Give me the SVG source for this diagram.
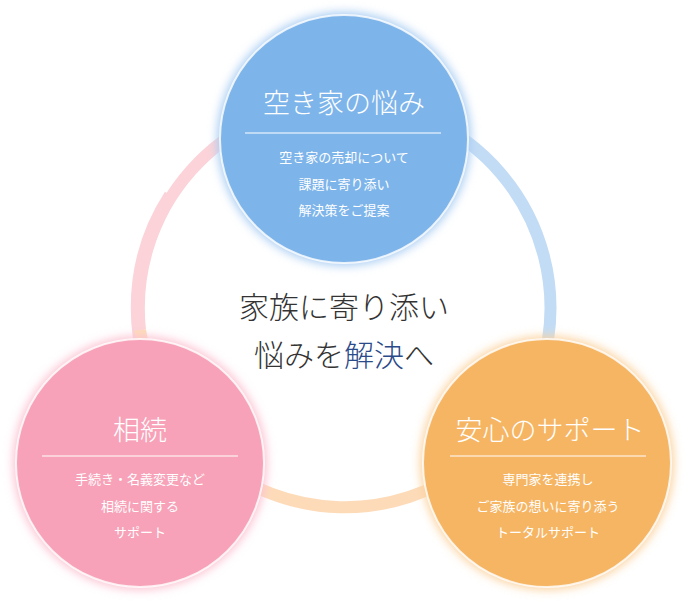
<svg xmlns="http://www.w3.org/2000/svg" width="688" height="604" viewBox="0 0 688 604">
<defs>
<filter id="glow" x="-20%" y="-20%" width="140%" height="140%"><feGaussianBlur stdDeviation="5"/></filter>
<style>
text{font-family:"Noto Sans CJK JP",sans-serif;text-anchor:middle}
.t{fill:#fff;font-size:27px;font-weight:300}
.s{fill:#fff;font-size:13px}
.c{fill:#333;font-size:30px;font-weight:300}
.ln{stroke:#fff;stroke-width:1.2}
.bd{stroke:#fff;stroke-width:2;stroke-opacity:0.8}
</style>
</defs>
<rect width="688" height="604" fill="#fff"/>
<g id="connectors" fill="none" stroke-width="12">
<path d="M 170 195 A 207 207 0 0 0 170 420" stroke="#fbd3d8" transform="rotate(0)"/>
<path d="M 140 330 A 207 207 0 0 1 344 101" stroke="#fbd3d8"/>
<path d="M 344 101 A 207 207 0 0 1 548 340" stroke="#c3dcf5"/>
<path d="M 548 340 A 207 207 0 0 1 140 330" stroke="#fddbb9"/>
</g>
<g id="center-text">
<text class="c" x="344" y="318">家族に寄り添い</text>
<text class="c" x="344" y="366">悩みを<tspan fill="#2b4a8a">解決</tspan>へ</text>
</g>
<g id="node-blue">
<circle cx="344" cy="139" r="127" fill="#a9cdf3" filter="url(#glow)"/>
<circle cx="344" cy="139" r="124" fill="#7db4ea" class="bd"/>
<text class="t" x="344" y="113">空き家の悩み</text>
<line class="ln" x1="245" y1="133" x2="441" y2="133"/>
<text class="s" x="344" y="162">空き家の売却について</text>
<text class="s" x="344" y="189">課題に寄り添い</text>
<text class="s" x="344" y="215">解決策をご提案</text>
</g>
<g id="node-pink">
<circle cx="140" cy="463" r="127" fill="#fbc2d2" filter="url(#glow)"/>
<circle cx="140" cy="463" r="124" fill="#f7a2b8" class="bd"/>
<text class="t" x="140" y="440">相続</text>
<line class="ln" x1="42" y1="456" x2="238" y2="456"/>
<text class="s" x="140" y="484">手続き・名義変更など</text>
<text class="s" x="140" y="511">相続に関する</text>
<text class="s" x="140" y="537">サポート</text>
</g>
<g id="node-orange">
<circle cx="547" cy="463" r="127" fill="#fbd3a0" filter="url(#glow)"/>
<circle cx="547" cy="463" r="124" fill="#f6b563" class="bd"/>
<text class="t" x="550" y="440">安心のサポート</text>
<line class="ln" x1="450" y1="456" x2="646" y2="456"/>
<text class="s" x="548" y="484">専門家を連携し</text>
<text class="s" x="548" y="511">ご家族の想いに寄り添う</text>
<text class="s" x="548" y="537">トータルサポート</text>
</g>
</svg>
